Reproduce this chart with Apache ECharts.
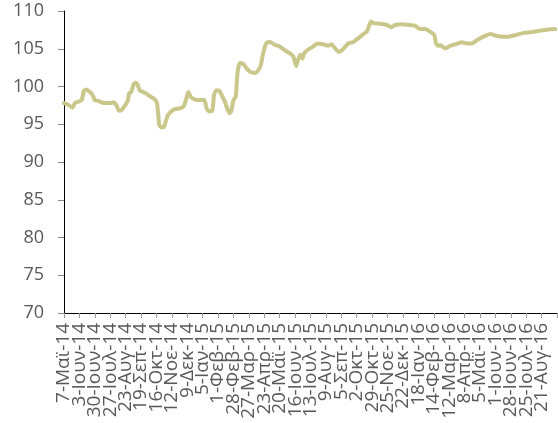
<!DOCTYPE html>
<html>
<head>
<meta charset="utf-8">
<script src="https://cdn.jsdelivr.net/npm/echarts@6/dist/echarts.min.js"></script>
<style>
  html, body { margin: 0; padding: 0; background: #fff; }
  #chart { width: 558px; height: 423px; }
</style>
</head>
<body>
<div id="chart"></div>
<script>
// Tick labels along the date axis, one every 27 days starting 7 May 2014
const tickLabels = [
  '7-Μαϊ-14', '3-Ιουν-14', '30-Ιουν-14', '27-Ιουλ-14', '23-Αυγ-14', '19-Σεπ-14',
  '16-Οκτ-14', '12-Νοε-14', '9-Δεκ-14', '5-Ιαν-15', '1-Φεβ-15', '28-Φεβ-15',
  '27-Μαρ-15', '23-Απρ-15', '20-Μαϊ-15', '16-Ιουν-15', '13-Ιουλ-15', '9-Αυγ-15',
  '5-Σεπ-15', '2-Οκτ-15', '29-Οκτ-15', '25-Νοε-15', '22-Δεκ-15', '18-Ιαν-16',
  '14-Φεβ-16', '12-Μαρ-16', '8-Απρ-16', '5-Μαϊ-16', '1-Ιουν-16', '28-Ιουν-16',
  '25-Ιουλ-16', '21-Αυγ-16'
];
const labelStep = 27;      // days between labelled ticks
const axisDays = 864;      // length of the date axis in days (32 steps)

// Day offset from 7 May 2014
const days = [
  0, 7, 15, 19, 25, 31, 35, 39, 45, 50, 54, 60, 66, 71, 80, 87, 92, 96, 101, 107,
  112, 114, 118, 122, 126, 129, 133, 138, 143, 147, 153, 159, 163, 165, 167, 171, 175, 178, 182, 188,
  194, 203, 210, 214, 218, 222, 229, 238, 246, 250, 254, 260, 263, 267, 272, 276, 282, 285, 290, 293,
  297, 301, 304, 308, 314, 320, 326, 335, 340, 345, 349, 355, 361, 370, 378, 387, 396, 402, 407, 410,
  414, 418, 421, 428, 437, 443, 454, 463, 469, 475, 481, 487, 492, 498, 507, 516, 525, 531, 535, 538,
  542, 554, 566, 574, 580, 592, 604, 615, 624, 633, 639, 649, 652, 656, 659, 668, 677, 686, 697, 706,
  715, 724, 735, 747, 759, 770, 779, 791, 805, 823, 835, 849, 861
];
// Index level
const values = [
  97.8, 97.6, 97.2, 97.8, 98.0, 98.2, 99.45, 99.6, 99.3, 98.9, 98.2, 98.1, 97.9, 97.8, 97.8, 97.9, 97.5, 96.8, 96.9, 97.5,
  98.2, 99.1, 99.3, 100.3, 100.5, 100.2, 99.45, 99.3, 99.1, 98.9, 98.6, 98.3, 97.8, 96.45, 94.9, 94.6, 94.6, 95.3, 96.2, 96.7,
  97.0, 97.1, 97.4, 98.3, 99.3, 98.65, 98.3, 98.2, 98.2, 97.1, 96.7, 96.8, 98.9, 99.5, 99.45, 98.9, 98.0, 97.3, 96.45, 96.7,
  98.2, 98.65, 101.75, 103.1, 103.0, 102.4, 101.95, 101.8, 102.1, 102.85, 104.4, 105.8, 105.9, 105.5, 105.3, 104.8, 104.4, 103.95, 102.7, 103.5,
  104.2, 103.7, 104.4, 104.9, 105.3, 105.7, 105.6, 105.4, 105.6, 105.05, 104.6, 104.8, 105.2, 105.7, 105.9, 106.4, 106.95, 107.3, 108.1, 108.6,
  108.4, 108.3, 108.15, 107.85, 108.15, 108.25, 108.15, 108.05, 107.6, 107.6, 107.4, 106.8, 105.7, 105.4, 105.5, 105.05, 105.4, 105.6, 105.85, 105.7,
  105.7, 106.15, 106.6, 106.95, 106.7, 106.6, 106.6, 106.8, 107.1, 107.25, 107.4, 107.55, 107.6
];

const seriesData = days.map((d, i) => [d, values[i]]);
// One category per 27-day step, plus an unlabelled one closing the axis
const axisCategories = tickLabels.concat(['']);

const labelColor = '#595959';
const fontFamily = '"Open Sans", Roboto, sans-serif';

const chart = echarts.init(document.getElementById('chart'), null, { renderer: 'canvas' });
chart.setOption({
  animation: false,
  backgroundColor: '#ffffff',
  grid: { left: 64, right: 1, top: 11, bottom: 110, containLabel: false },
  xAxis: [
    {
      // visible date axis: ticks and labels every 27 days
      type: 'category',
      data: axisCategories,
      boundaryGap: false,
      axisLine: { show: true, lineStyle: { color: '#000', width: 1 } },
      axisTick: { show: true, interval: 0, length: 5, lineStyle: { color: '#999' } },
      splitLine: { show: false },
      axisLabel: {
        interval: 0,
        rotate: 90,
        margin: 10,
        color: labelColor,
        fontSize: 19,
        fontFamily: fontFamily,
        hideOverlap: false
      }
    },
    {
      // day-offset scale used to place the series
      type: 'value',
      min: 0,
      max: axisDays,
      show: false
    }
  ],
  yAxis: {
    type: 'value',
    min: 70,
    max: 110,
    interval: 5,
    axisLine: { show: true, lineStyle: { color: '#000', width: 1 } },
    axisTick: { show: true, length: 6, lineStyle: { color: '#888' } },
    splitLine: { show: false },
    axisLabel: {
      margin: 20,
      color: labelColor,
      fontSize: 18,
      fontFamily: fontFamily
    }
  },
  series: [{
    type: 'line',
    xAxisIndex: 1,
    data: seriesData,
    showSymbol: false,
    smooth: 0.15,
    lineStyle: { color: '#cac78b', width: 4, cap: 'round', join: 'round' },
    clip: false
  }]
});
</script>
</body>
</html>
